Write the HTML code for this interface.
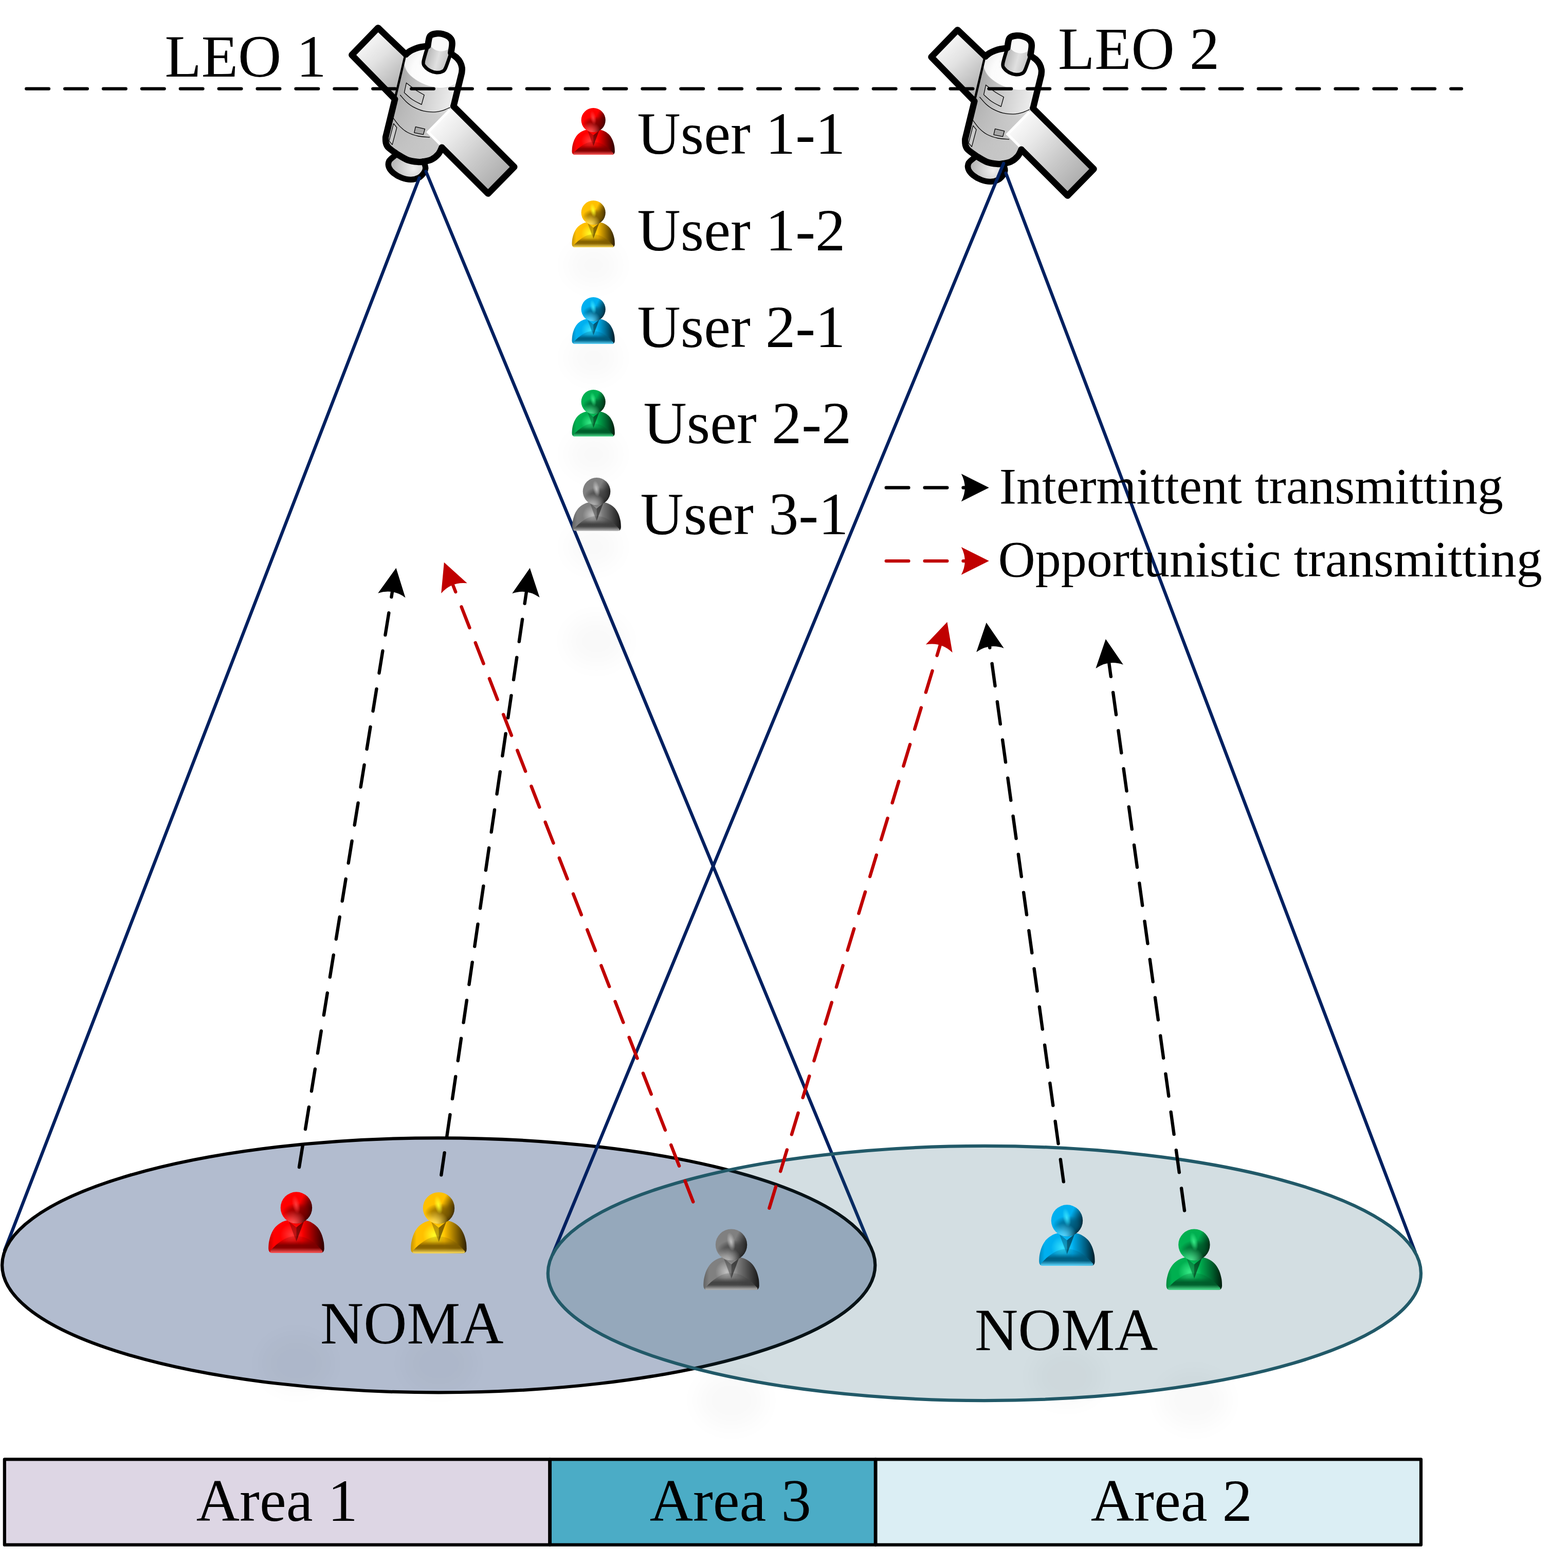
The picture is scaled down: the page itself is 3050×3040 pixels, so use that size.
<!DOCTYPE html>
<html lang="en"><head><meta charset="utf-8"><title>LEO NOMA diagram</title>
<style>
html,body{margin:0;padding:0;background:#fff;}
body{width:3050px;height:3040px;overflow:hidden;font-family:"Liberation Serif",serif;}
svg{display:block;}
</style></head><body>
<svg width="3050" height="3040" viewBox="0 0 3050 3040">
<defs>
<linearGradient id="h_red" x1="0.25" y1="0.25" x2="1.0" y2="0.62">
 <stop offset="0" stop-color="#ff0000"/><stop offset="0.42" stop-color="#ff0000"/><stop offset="0.72" stop-color="#7c0000"/><stop offset="1" stop-color="#2c0000"/>
</linearGradient>
<radialGradient id="hr_red" cx="0.4" cy="1.0" r="0.42">
 <stop offset="0" stop-color="#ff5a5a" stop-opacity="0.95"/><stop offset="0.45" stop-color="#ff5a5a" stop-opacity="0.55"/><stop offset="1" stop-color="#ff5a5a" stop-opacity="0"/>
</radialGradient>
<radialGradient id="hd_red" cx="0.55" cy="0.66" r="0.5" gradientTransform="translate(0.55 0.66) scale(1 0.62) translate(-0.55 -0.66)">
 <stop offset="0" stop-color="#7c0000" stop-opacity="0.85"/><stop offset="0.55" stop-color="#7c0000" stop-opacity="0.6"/><stop offset="1" stop-color="#7c0000" stop-opacity="0"/>
</radialGradient>
<radialGradient id="hs_red" cx="0.49" cy="0.4" r="0.3" gradientTransform="translate(0.49 0.4) rotate(-12) scale(0.42 1) translate(-0.49 -0.4)">
 <stop offset="0" stop-color="#ff3c3c" stop-opacity="0.95"/><stop offset="0.5" stop-color="#ff3c3c" stop-opacity="0.5"/><stop offset="1" stop-color="#ff3c3c" stop-opacity="0"/>
</radialGradient>
<linearGradient id="b_red" x1="0" y1="0" x2="1" y2="0">
 <stop offset="0" stop-color="#c40000"/><stop offset="0.1" stop-color="#ff0000"/><stop offset="0.6" stop-color="#ff0000"/><stop offset="0.84" stop-color="#7c0000"/><stop offset="1" stop-color="#2c0000"/>
</linearGradient>
<linearGradient id="l_red" x1="0" y1="0" x2="0" y2="1">
 <stop offset="0" stop-color="#7c0000" stop-opacity="0.18"/><stop offset="0.28" stop-color="#7c0000" stop-opacity="0.3"/><stop offset="0.55" stop-color="#7c0000" stop-opacity="0.95"/><stop offset="0.7" stop-color="#7c0000" stop-opacity="0.9"/><stop offset="1" stop-color="#ff5a5a"/>
</linearGradient>
<radialGradient id="bh_red" gradientUnits="userSpaceOnUse" cx="35" cy="64" r="17">
 <stop offset="0" stop-color="#ff3c3c" stop-opacity="0.95"/><stop offset="1" stop-color="#ff3c3c" stop-opacity="0"/>
</radialGradient>
<g id="u_red">
 <path d="M6,91 Q0.3,91 0.3,84.5 C0.4,82.8 0.4,78.2 1.1,74.5 C1.8,70.8 3.1,65.8 4.7,62.2 C6.3,58.6 8.2,55.4 10.5,52.7 C12.8,50.0 15.6,47.9 18.5,46.2 C21.4,44.5 24.1,43.4 28.0,42.5 C31.9,41.6 37.3,41.0 42.0,41.0 C46.7,41.0 52.1,41.6 56.0,42.5 C59.9,43.4 62.6,44.5 65.5,46.2 C68.4,47.9 71.2,50.0 73.5,52.7 C75.8,55.4 77.7,58.6 79.3,62.2 C80.9,65.8 82.2,70.8 82.9,74.5 C83.6,78.2 83.6,82.8 83.7,84.5 Q83.7,91 78,91 Z" fill="url(#b_red)"/>
 <path d="M6,91 Q0.3,91 0.3,84.5 C0.4,82.8 0.4,78.2 1.1,74.5 C1.8,70.8 3.1,65.8 4.7,62.2 C6.3,58.6 8.2,55.4 10.5,52.7 C12.8,50.0 15.6,47.9 18.5,46.2 C21.4,44.5 24.1,43.4 28.0,42.5 C31.9,41.6 37.3,41.0 42.0,41.0 C46.7,41.0 52.1,41.6 56.0,42.5 C59.9,43.4 62.6,44.5 65.5,46.2 C68.4,47.9 71.2,50.0 73.5,52.7 C75.8,55.4 77.7,58.6 79.3,62.2 C80.9,65.8 82.2,70.8 82.9,74.5 C83.6,78.2 83.6,82.8 83.7,84.5 Q83.7,91 78,91 Z" fill="url(#bh_red)"/>
 <path d="M6,91 Q2,91 3,88 C4.5,86.5 8.5,81.9 12.0,79.0 C15.5,76.1 20.3,72.5 24.0,70.5 C27.7,68.5 31.0,67.5 34.0,66.8 C37.0,66.0 39.3,66.0 42.0,66.0 C44.7,66.0 47.0,66.0 50.0,66.8 C53.0,67.5 56.3,68.5 60.0,70.5 C63.7,72.5 68.5,76.1 72.0,79.0 C75.5,81.9 79.5,86.5 81.0,88.0 Q82,91 78,91 Z" fill="url(#l_red)"/>
 <path d="M30.5,43.5 L42,53 L42,74 Z" fill="#7c0000" opacity="0.5"/>
 <path d="M53.5,43.5 L42,53 L42,74 Z" fill="#2c0000" opacity="0.6"/>
 <circle cx="42" cy="23.6" r="23.6" fill="url(#h_red)"/>
 <circle cx="42" cy="23.6" r="23.6" fill="url(#hd_red)"/>
 <circle cx="42" cy="23.6" r="23.6" fill="url(#hr_red)"/>
 <circle cx="42" cy="23.6" r="23.6" fill="url(#hs_red)"/>
</g>
<linearGradient id="h_yel" x1="0.25" y1="0.25" x2="1.0" y2="0.62">
 <stop offset="0" stop-color="#ffc000"/><stop offset="0.42" stop-color="#ffc000"/><stop offset="0.72" stop-color="#7e5c00"/><stop offset="1" stop-color="#2e2000"/>
</linearGradient>
<radialGradient id="hr_yel" cx="0.4" cy="1.0" r="0.42">
 <stop offset="0" stop-color="#ffe060" stop-opacity="0.95"/><stop offset="0.45" stop-color="#ffe060" stop-opacity="0.55"/><stop offset="1" stop-color="#ffe060" stop-opacity="0"/>
</radialGradient>
<radialGradient id="hd_yel" cx="0.55" cy="0.66" r="0.5" gradientTransform="translate(0.55 0.66) scale(1 0.62) translate(-0.55 -0.66)">
 <stop offset="0" stop-color="#7e5c00" stop-opacity="0.85"/><stop offset="0.55" stop-color="#7e5c00" stop-opacity="0.6"/><stop offset="1" stop-color="#7e5c00" stop-opacity="0"/>
</radialGradient>
<radialGradient id="hs_yel" cx="0.49" cy="0.4" r="0.3" gradientTransform="translate(0.49 0.4) rotate(-12) scale(0.42 1) translate(-0.49 -0.4)">
 <stop offset="0" stop-color="#ffff28" stop-opacity="0.95"/><stop offset="0.5" stop-color="#ffff28" stop-opacity="0.5"/><stop offset="1" stop-color="#ffff28" stop-opacity="0"/>
</radialGradient>
<linearGradient id="b_yel" x1="0" y1="0" x2="1" y2="0">
 <stop offset="0" stop-color="#c59300"/><stop offset="0.1" stop-color="#ffc000"/><stop offset="0.6" stop-color="#ffc000"/><stop offset="0.84" stop-color="#7e5c00"/><stop offset="1" stop-color="#2e2000"/>
</linearGradient>
<linearGradient id="l_yel" x1="0" y1="0" x2="0" y2="1">
 <stop offset="0" stop-color="#7e5c00" stop-opacity="0.18"/><stop offset="0.28" stop-color="#7e5c00" stop-opacity="0.3"/><stop offset="0.55" stop-color="#7e5c00" stop-opacity="0.95"/><stop offset="0.7" stop-color="#7e5c00" stop-opacity="0.9"/><stop offset="1" stop-color="#ffe060"/>
</linearGradient>
<radialGradient id="bh_yel" gradientUnits="userSpaceOnUse" cx="35" cy="64" r="17">
 <stop offset="0" stop-color="#ffff28" stop-opacity="0.95"/><stop offset="1" stop-color="#ffff28" stop-opacity="0"/>
</radialGradient>
<g id="u_yel">
 <path d="M6,91 Q0.3,91 0.3,84.5 C0.4,82.8 0.4,78.2 1.1,74.5 C1.8,70.8 3.1,65.8 4.7,62.2 C6.3,58.6 8.2,55.4 10.5,52.7 C12.8,50.0 15.6,47.9 18.5,46.2 C21.4,44.5 24.1,43.4 28.0,42.5 C31.9,41.6 37.3,41.0 42.0,41.0 C46.7,41.0 52.1,41.6 56.0,42.5 C59.9,43.4 62.6,44.5 65.5,46.2 C68.4,47.9 71.2,50.0 73.5,52.7 C75.8,55.4 77.7,58.6 79.3,62.2 C80.9,65.8 82.2,70.8 82.9,74.5 C83.6,78.2 83.6,82.8 83.7,84.5 Q83.7,91 78,91 Z" fill="url(#b_yel)"/>
 <path d="M6,91 Q0.3,91 0.3,84.5 C0.4,82.8 0.4,78.2 1.1,74.5 C1.8,70.8 3.1,65.8 4.7,62.2 C6.3,58.6 8.2,55.4 10.5,52.7 C12.8,50.0 15.6,47.9 18.5,46.2 C21.4,44.5 24.1,43.4 28.0,42.5 C31.9,41.6 37.3,41.0 42.0,41.0 C46.7,41.0 52.1,41.6 56.0,42.5 C59.9,43.4 62.6,44.5 65.5,46.2 C68.4,47.9 71.2,50.0 73.5,52.7 C75.8,55.4 77.7,58.6 79.3,62.2 C80.9,65.8 82.2,70.8 82.9,74.5 C83.6,78.2 83.6,82.8 83.7,84.5 Q83.7,91 78,91 Z" fill="url(#bh_yel)"/>
 <path d="M6,91 Q2,91 3,88 C4.5,86.5 8.5,81.9 12.0,79.0 C15.5,76.1 20.3,72.5 24.0,70.5 C27.7,68.5 31.0,67.5 34.0,66.8 C37.0,66.0 39.3,66.0 42.0,66.0 C44.7,66.0 47.0,66.0 50.0,66.8 C53.0,67.5 56.3,68.5 60.0,70.5 C63.7,72.5 68.5,76.1 72.0,79.0 C75.5,81.9 79.5,86.5 81.0,88.0 Q82,91 78,91 Z" fill="url(#l_yel)"/>
 <path d="M30.5,43.5 L42,53 L42,74 Z" fill="#7e5c00" opacity="0.5"/>
 <path d="M53.5,43.5 L42,53 L42,74 Z" fill="#2e2000" opacity="0.6"/>
 <circle cx="42" cy="23.6" r="23.6" fill="url(#h_yel)"/>
 <circle cx="42" cy="23.6" r="23.6" fill="url(#hd_yel)"/>
 <circle cx="42" cy="23.6" r="23.6" fill="url(#hr_yel)"/>
 <circle cx="42" cy="23.6" r="23.6" fill="url(#hs_yel)"/>
</g>
<linearGradient id="h_blu" x1="0.25" y1="0.25" x2="1.0" y2="0.62">
 <stop offset="0" stop-color="#00b0f0"/><stop offset="0.42" stop-color="#00b0f0"/><stop offset="0.72" stop-color="#005a7c"/><stop offset="1" stop-color="#001c28"/>
</linearGradient>
<radialGradient id="hr_blu" cx="0.4" cy="1.0" r="0.42">
 <stop offset="0" stop-color="#60d8ff" stop-opacity="0.95"/><stop offset="0.45" stop-color="#60d8ff" stop-opacity="0.55"/><stop offset="1" stop-color="#60d8ff" stop-opacity="0"/>
</radialGradient>
<radialGradient id="hd_blu" cx="0.55" cy="0.66" r="0.5" gradientTransform="translate(0.55 0.66) scale(1 0.62) translate(-0.55 -0.66)">
 <stop offset="0" stop-color="#005a7c" stop-opacity="0.85"/><stop offset="0.55" stop-color="#005a7c" stop-opacity="0.6"/><stop offset="1" stop-color="#005a7c" stop-opacity="0"/>
</radialGradient>
<radialGradient id="hs_blu" cx="0.49" cy="0.4" r="0.3" gradientTransform="translate(0.49 0.4) rotate(-12) scale(0.42 1) translate(-0.49 -0.4)">
 <stop offset="0" stop-color="#38e4ff" stop-opacity="0.95"/><stop offset="0.5" stop-color="#38e4ff" stop-opacity="0.5"/><stop offset="1" stop-color="#38e4ff" stop-opacity="0"/>
</radialGradient>
<linearGradient id="b_blu" x1="0" y1="0" x2="1" y2="0">
 <stop offset="0" stop-color="#0089bc"/><stop offset="0.1" stop-color="#00b0f0"/><stop offset="0.6" stop-color="#00b0f0"/><stop offset="0.84" stop-color="#005a7c"/><stop offset="1" stop-color="#001c28"/>
</linearGradient>
<linearGradient id="l_blu" x1="0" y1="0" x2="0" y2="1">
 <stop offset="0" stop-color="#005a7c" stop-opacity="0.18"/><stop offset="0.28" stop-color="#005a7c" stop-opacity="0.3"/><stop offset="0.55" stop-color="#005a7c" stop-opacity="0.95"/><stop offset="0.7" stop-color="#005a7c" stop-opacity="0.9"/><stop offset="1" stop-color="#60d8ff"/>
</linearGradient>
<radialGradient id="bh_blu" gradientUnits="userSpaceOnUse" cx="35" cy="64" r="17">
 <stop offset="0" stop-color="#38e4ff" stop-opacity="0.95"/><stop offset="1" stop-color="#38e4ff" stop-opacity="0"/>
</radialGradient>
<g id="u_blu">
 <path d="M6,91 Q0.3,91 0.3,84.5 C0.4,82.8 0.4,78.2 1.1,74.5 C1.8,70.8 3.1,65.8 4.7,62.2 C6.3,58.6 8.2,55.4 10.5,52.7 C12.8,50.0 15.6,47.9 18.5,46.2 C21.4,44.5 24.1,43.4 28.0,42.5 C31.9,41.6 37.3,41.0 42.0,41.0 C46.7,41.0 52.1,41.6 56.0,42.5 C59.9,43.4 62.6,44.5 65.5,46.2 C68.4,47.9 71.2,50.0 73.5,52.7 C75.8,55.4 77.7,58.6 79.3,62.2 C80.9,65.8 82.2,70.8 82.9,74.5 C83.6,78.2 83.6,82.8 83.7,84.5 Q83.7,91 78,91 Z" fill="url(#b_blu)"/>
 <path d="M6,91 Q0.3,91 0.3,84.5 C0.4,82.8 0.4,78.2 1.1,74.5 C1.8,70.8 3.1,65.8 4.7,62.2 C6.3,58.6 8.2,55.4 10.5,52.7 C12.8,50.0 15.6,47.9 18.5,46.2 C21.4,44.5 24.1,43.4 28.0,42.5 C31.9,41.6 37.3,41.0 42.0,41.0 C46.7,41.0 52.1,41.6 56.0,42.5 C59.9,43.4 62.6,44.5 65.5,46.2 C68.4,47.9 71.2,50.0 73.5,52.7 C75.8,55.4 77.7,58.6 79.3,62.2 C80.9,65.8 82.2,70.8 82.9,74.5 C83.6,78.2 83.6,82.8 83.7,84.5 Q83.7,91 78,91 Z" fill="url(#bh_blu)"/>
 <path d="M6,91 Q2,91 3,88 C4.5,86.5 8.5,81.9 12.0,79.0 C15.5,76.1 20.3,72.5 24.0,70.5 C27.7,68.5 31.0,67.5 34.0,66.8 C37.0,66.0 39.3,66.0 42.0,66.0 C44.7,66.0 47.0,66.0 50.0,66.8 C53.0,67.5 56.3,68.5 60.0,70.5 C63.7,72.5 68.5,76.1 72.0,79.0 C75.5,81.9 79.5,86.5 81.0,88.0 Q82,91 78,91 Z" fill="url(#l_blu)"/>
 <path d="M30.5,43.5 L42,53 L42,74 Z" fill="#005a7c" opacity="0.5"/>
 <path d="M53.5,43.5 L42,53 L42,74 Z" fill="#001c28" opacity="0.6"/>
 <circle cx="42" cy="23.6" r="23.6" fill="url(#h_blu)"/>
 <circle cx="42" cy="23.6" r="23.6" fill="url(#hd_blu)"/>
 <circle cx="42" cy="23.6" r="23.6" fill="url(#hr_blu)"/>
 <circle cx="42" cy="23.6" r="23.6" fill="url(#hs_blu)"/>
</g>
<linearGradient id="h_grn" x1="0.25" y1="0.25" x2="1.0" y2="0.62">
 <stop offset="0" stop-color="#00b050"/><stop offset="0.42" stop-color="#00b050"/><stop offset="0.72" stop-color="#005a2a"/><stop offset="1" stop-color="#001c0c"/>
</linearGradient>
<radialGradient id="hr_grn" cx="0.4" cy="1.0" r="0.42">
 <stop offset="0" stop-color="#50e090" stop-opacity="0.95"/><stop offset="0.45" stop-color="#50e090" stop-opacity="0.55"/><stop offset="1" stop-color="#50e090" stop-opacity="0"/>
</radialGradient>
<radialGradient id="hd_grn" cx="0.55" cy="0.66" r="0.5" gradientTransform="translate(0.55 0.66) scale(1 0.62) translate(-0.55 -0.66)">
 <stop offset="0" stop-color="#005a2a" stop-opacity="0.85"/><stop offset="0.55" stop-color="#005a2a" stop-opacity="0.6"/><stop offset="1" stop-color="#005a2a" stop-opacity="0"/>
</radialGradient>
<radialGradient id="hs_grn" cx="0.49" cy="0.4" r="0.3" gradientTransform="translate(0.49 0.4) rotate(-12) scale(0.42 1) translate(-0.49 -0.4)">
 <stop offset="0" stop-color="#38ec88" stop-opacity="0.95"/><stop offset="0.5" stop-color="#38ec88" stop-opacity="0.5"/><stop offset="1" stop-color="#38ec88" stop-opacity="0"/>
</radialGradient>
<linearGradient id="b_grn" x1="0" y1="0" x2="1" y2="0">
 <stop offset="0" stop-color="#00893f"/><stop offset="0.1" stop-color="#00b050"/><stop offset="0.6" stop-color="#00b050"/><stop offset="0.84" stop-color="#005a2a"/><stop offset="1" stop-color="#001c0c"/>
</linearGradient>
<linearGradient id="l_grn" x1="0" y1="0" x2="0" y2="1">
 <stop offset="0" stop-color="#005a2a" stop-opacity="0.18"/><stop offset="0.28" stop-color="#005a2a" stop-opacity="0.3"/><stop offset="0.55" stop-color="#005a2a" stop-opacity="0.95"/><stop offset="0.7" stop-color="#005a2a" stop-opacity="0.9"/><stop offset="1" stop-color="#50e090"/>
</linearGradient>
<radialGradient id="bh_grn" gradientUnits="userSpaceOnUse" cx="35" cy="64" r="17">
 <stop offset="0" stop-color="#38ec88" stop-opacity="0.95"/><stop offset="1" stop-color="#38ec88" stop-opacity="0"/>
</radialGradient>
<g id="u_grn">
 <path d="M6,91 Q0.3,91 0.3,84.5 C0.4,82.8 0.4,78.2 1.1,74.5 C1.8,70.8 3.1,65.8 4.7,62.2 C6.3,58.6 8.2,55.4 10.5,52.7 C12.8,50.0 15.6,47.9 18.5,46.2 C21.4,44.5 24.1,43.4 28.0,42.5 C31.9,41.6 37.3,41.0 42.0,41.0 C46.7,41.0 52.1,41.6 56.0,42.5 C59.9,43.4 62.6,44.5 65.5,46.2 C68.4,47.9 71.2,50.0 73.5,52.7 C75.8,55.4 77.7,58.6 79.3,62.2 C80.9,65.8 82.2,70.8 82.9,74.5 C83.6,78.2 83.6,82.8 83.7,84.5 Q83.7,91 78,91 Z" fill="url(#b_grn)"/>
 <path d="M6,91 Q0.3,91 0.3,84.5 C0.4,82.8 0.4,78.2 1.1,74.5 C1.8,70.8 3.1,65.8 4.7,62.2 C6.3,58.6 8.2,55.4 10.5,52.7 C12.8,50.0 15.6,47.9 18.5,46.2 C21.4,44.5 24.1,43.4 28.0,42.5 C31.9,41.6 37.3,41.0 42.0,41.0 C46.7,41.0 52.1,41.6 56.0,42.5 C59.9,43.4 62.6,44.5 65.5,46.2 C68.4,47.9 71.2,50.0 73.5,52.7 C75.8,55.4 77.7,58.6 79.3,62.2 C80.9,65.8 82.2,70.8 82.9,74.5 C83.6,78.2 83.6,82.8 83.7,84.5 Q83.7,91 78,91 Z" fill="url(#bh_grn)"/>
 <path d="M6,91 Q2,91 3,88 C4.5,86.5 8.5,81.9 12.0,79.0 C15.5,76.1 20.3,72.5 24.0,70.5 C27.7,68.5 31.0,67.5 34.0,66.8 C37.0,66.0 39.3,66.0 42.0,66.0 C44.7,66.0 47.0,66.0 50.0,66.8 C53.0,67.5 56.3,68.5 60.0,70.5 C63.7,72.5 68.5,76.1 72.0,79.0 C75.5,81.9 79.5,86.5 81.0,88.0 Q82,91 78,91 Z" fill="url(#l_grn)"/>
 <path d="M30.5,43.5 L42,53 L42,74 Z" fill="#005a2a" opacity="0.5"/>
 <path d="M53.5,43.5 L42,53 L42,74 Z" fill="#001c0c" opacity="0.6"/>
 <circle cx="42" cy="23.6" r="23.6" fill="url(#h_grn)"/>
 <circle cx="42" cy="23.6" r="23.6" fill="url(#hd_grn)"/>
 <circle cx="42" cy="23.6" r="23.6" fill="url(#hr_grn)"/>
 <circle cx="42" cy="23.6" r="23.6" fill="url(#hs_grn)"/>
</g>
<linearGradient id="h_gry" x1="0.25" y1="0.25" x2="1.0" y2="0.62">
 <stop offset="0" stop-color="#808080"/><stop offset="0.42" stop-color="#808080"/><stop offset="0.72" stop-color="#404040"/><stop offset="1" stop-color="#161616"/>
</linearGradient>
<radialGradient id="hr_gry" cx="0.4" cy="1.0" r="0.42">
 <stop offset="0" stop-color="#b8b8b8" stop-opacity="0.95"/><stop offset="0.45" stop-color="#b8b8b8" stop-opacity="0.55"/><stop offset="1" stop-color="#b8b8b8" stop-opacity="0"/>
</radialGradient>
<radialGradient id="hd_gry" cx="0.55" cy="0.66" r="0.5" gradientTransform="translate(0.55 0.66) scale(1 0.62) translate(-0.55 -0.66)">
 <stop offset="0" stop-color="#404040" stop-opacity="0.85"/><stop offset="0.55" stop-color="#404040" stop-opacity="0.6"/><stop offset="1" stop-color="#404040" stop-opacity="0"/>
</radialGradient>
<radialGradient id="hs_gry" cx="0.49" cy="0.4" r="0.3" gradientTransform="translate(0.49 0.4) rotate(-12) scale(0.42 1) translate(-0.49 -0.4)">
 <stop offset="0" stop-color="#c4c4c4" stop-opacity="0.95"/><stop offset="0.5" stop-color="#c4c4c4" stop-opacity="0.5"/><stop offset="1" stop-color="#c4c4c4" stop-opacity="0"/>
</radialGradient>
<linearGradient id="b_gry" x1="0" y1="0" x2="1" y2="0">
 <stop offset="0" stop-color="#636363"/><stop offset="0.1" stop-color="#808080"/><stop offset="0.6" stop-color="#808080"/><stop offset="0.84" stop-color="#404040"/><stop offset="1" stop-color="#161616"/>
</linearGradient>
<linearGradient id="l_gry" x1="0" y1="0" x2="0" y2="1">
 <stop offset="0" stop-color="#404040" stop-opacity="0.18"/><stop offset="0.28" stop-color="#404040" stop-opacity="0.3"/><stop offset="0.55" stop-color="#404040" stop-opacity="0.95"/><stop offset="0.7" stop-color="#404040" stop-opacity="0.9"/><stop offset="1" stop-color="#b8b8b8"/>
</linearGradient>
<radialGradient id="bh_gry" gradientUnits="userSpaceOnUse" cx="35" cy="64" r="17">
 <stop offset="0" stop-color="#c4c4c4" stop-opacity="0.95"/><stop offset="1" stop-color="#c4c4c4" stop-opacity="0"/>
</radialGradient>
<g id="u_gry">
 <path d="M6,91 Q0.3,91 0.3,84.5 C0.4,82.8 0.4,78.2 1.1,74.5 C1.8,70.8 3.1,65.8 4.7,62.2 C6.3,58.6 8.2,55.4 10.5,52.7 C12.8,50.0 15.6,47.9 18.5,46.2 C21.4,44.5 24.1,43.4 28.0,42.5 C31.9,41.6 37.3,41.0 42.0,41.0 C46.7,41.0 52.1,41.6 56.0,42.5 C59.9,43.4 62.6,44.5 65.5,46.2 C68.4,47.9 71.2,50.0 73.5,52.7 C75.8,55.4 77.7,58.6 79.3,62.2 C80.9,65.8 82.2,70.8 82.9,74.5 C83.6,78.2 83.6,82.8 83.7,84.5 Q83.7,91 78,91 Z" fill="url(#b_gry)"/>
 <path d="M6,91 Q0.3,91 0.3,84.5 C0.4,82.8 0.4,78.2 1.1,74.5 C1.8,70.8 3.1,65.8 4.7,62.2 C6.3,58.6 8.2,55.4 10.5,52.7 C12.8,50.0 15.6,47.9 18.5,46.2 C21.4,44.5 24.1,43.4 28.0,42.5 C31.9,41.6 37.3,41.0 42.0,41.0 C46.7,41.0 52.1,41.6 56.0,42.5 C59.9,43.4 62.6,44.5 65.5,46.2 C68.4,47.9 71.2,50.0 73.5,52.7 C75.8,55.4 77.7,58.6 79.3,62.2 C80.9,65.8 82.2,70.8 82.9,74.5 C83.6,78.2 83.6,82.8 83.7,84.5 Q83.7,91 78,91 Z" fill="url(#bh_gry)"/>
 <path d="M6,91 Q2,91 3,88 C4.5,86.5 8.5,81.9 12.0,79.0 C15.5,76.1 20.3,72.5 24.0,70.5 C27.7,68.5 31.0,67.5 34.0,66.8 C37.0,66.0 39.3,66.0 42.0,66.0 C44.7,66.0 47.0,66.0 50.0,66.8 C53.0,67.5 56.3,68.5 60.0,70.5 C63.7,72.5 68.5,76.1 72.0,79.0 C75.5,81.9 79.5,86.5 81.0,88.0 Q82,91 78,91 Z" fill="url(#l_gry)"/>
 <path d="M30.5,43.5 L42,53 L42,74 Z" fill="#404040" opacity="0.5"/>
 <path d="M53.5,43.5 L42,53 L42,74 Z" fill="#161616" opacity="0.6"/>
 <circle cx="42" cy="23.6" r="23.6" fill="url(#h_gry)"/>
 <circle cx="42" cy="23.6" r="23.6" fill="url(#hd_gry)"/>
 <circle cx="42" cy="23.6" r="23.6" fill="url(#hr_gry)"/>
 <circle cx="42" cy="23.6" r="23.6" fill="url(#hs_gry)"/>
</g><linearGradient id="panL" gradientUnits="userSpaceOnUse" x1="430" y1="310" x2="700" y2="620">
 <stop offset="0" stop-color="#f6f6f6"/><stop offset="0.4" stop-color="#e2e2e2"/><stop offset="1" stop-color="#b4b4b4"/>
</linearGradient>
<linearGradient id="panR" gradientUnits="userSpaceOnUse" x1="960" y1="880" x2="1450" y2="1350">
 <stop offset="0" stop-color="#fcfcfc"/><stop offset="0.3" stop-color="#e8e8e8"/><stop offset="0.6" stop-color="#cdcdcd"/><stop offset="1" stop-color="#adadad"/>
</linearGradient>
<linearGradient id="bodyG" gradientUnits="userSpaceOnUse" x1="640" y1="760" x2="1110" y2="860">
 <stop offset="0" stop-color="#a6a6a6"/><stop offset="0.45" stop-color="#cfcfcf"/><stop offset="1" stop-color="#f4f4f4"/>
</linearGradient>
<linearGradient id="bodyD" gradientUnits="userSpaceOnUse" x1="900" y1="700" x2="820" y2="1150">
 <stop offset="0" stop-color="#bbb" stop-opacity="0"/><stop offset="0.35" stop-color="#bbb" stop-opacity="0.55"/><stop offset="1" stop-color="#c4c4c4" stop-opacity="0.9"/>
</linearGradient>
<radialGradient id="capG" gradientUnits="userSpaceOnUse" cx="960" cy="560" r="260">
 <stop offset="0" stop-color="#fff"/><stop offset="0.7" stop-color="#fbfbfb"/><stop offset="1" stop-color="#ececec"/>
</radialGradient>
<linearGradient id="nozG" gradientUnits="userSpaceOnUse" x1="880" y1="420" x2="1060" y2="470">
 <stop offset="0" stop-color="#b4b4b4"/><stop offset="0.5" stop-color="#e0e0e0"/><stop offset="1" stop-color="#c0c0c0"/>
</linearGradient>
<radialGradient id="bellG" gradientUnits="userSpaceOnUse" cx="790" cy="1265" r="170">
 <stop offset="0" stop-color="#f0f0f0"/><stop offset="1" stop-color="#b4b4b4"/>
</radialGradient>
<g id="sat" stroke-linejoin="round" stroke-linecap="round" fill="none">
<path d="M523.0,209.0 L325.6,413.0 L650.0,745.0 L760.0,640.0 L732.0,409.0 Z" fill="url(#panL)"/>
<path d="M646.0,1172.0 C639.3,1178.3 613.0,1196.0 606.0,1210.0 C599.0,1224.0 598.3,1240.7 604.0,1256.0 C609.7,1271.3 624.0,1288.7 640.0,1302.0 C656.0,1315.3 678.3,1328.0 700.0,1336.0 C721.7,1344.0 748.3,1350.2 770.0,1350.0 C791.7,1349.8 813.7,1343.7 830.0,1335.0 C846.3,1326.3 859.7,1309.7 868.0,1298.0 C876.3,1286.3 879.2,1276.0 880.0,1265.0 C880.8,1254.0 875.5,1240.8 873.0,1232.0 C870.5,1223.2 866.3,1215.3 865.0,1212.0 Z" fill="url(#bellG)"/>
<path d="M732.0,409.0 C737.0,405.0 750.0,392.3 762.0,385.0 C774.0,377.7 790.2,370.3 804.0,365.0 C817.8,359.7 831.5,356.0 845.0,353.0 C858.5,350.0 878.3,348.0 885.0,347.0 L1075,405 C1081.2,409.5 1101.2,421.7 1112.0,432.0 C1122.8,442.3 1133.0,454.0 1140.0,467.0 C1147.0,480.0 1152.0,496.5 1154.0,510.0 C1156.0,523.5 1152.3,541.7 1152.0,548.0 L1091,795 L1003,1108 C998.7,1116.2 990.0,1141.8 977.0,1157.0 C964.0,1172.2 943.7,1189.5 925.0,1199.0 C906.3,1208.5 881.7,1211.0 865.0,1214.0 C848.3,1217.0 845.0,1219.0 825.0,1217.0 C805.0,1215.0 771.8,1212.0 745.0,1202.0 C718.2,1192.0 677.5,1164.5 664.0,1157.0 C653.3,1148.8 613.7,1122.2 600.0,1108.0 C586.3,1093.8 585.3,1084.8 582.0,1072.0 C578.7,1059.2 580.3,1037.8 580.0,1031.0 L650,745 L716,449 Z" fill="url(#bodyG)"/>
<path d="M690.0,715.0 C697.5,723.3 719.2,750.5 735.0,765.0 C750.8,779.5 763.3,790.5 785.0,802.0 C806.7,813.5 838.3,827.3 865.0,834.0 C891.7,840.7 920.8,842.7 945.0,842.0 C969.2,841.3 990.5,835.7 1010.0,830.0 C1029.5,824.3 1053.3,811.7 1062.0,808.0 L1091,795 L1003,1108 C998.7,1116.2 990.0,1141.8 977.0,1157.0 C964.0,1172.2 943.7,1189.5 925.0,1199.0 C906.3,1208.5 881.7,1211.0 865.0,1214.0 C848.3,1217.0 845.0,1219.0 825.0,1217.0 C805.0,1215.0 771.8,1212.0 745.0,1202.0 C718.2,1192.0 677.5,1164.5 664.0,1157.0 C653.3,1148.8 613.7,1122.2 600.0,1108.0 C586.3,1093.8 585.3,1084.8 582.0,1072.0 C578.7,1059.2 580.3,1037.8 580.0,1031.0 L650,745 Z" fill="url(#bodyD)"/>
<path d="M732.0,409.0 C737.0,405.0 750.0,392.3 762.0,385.0 C774.0,377.7 790.2,370.3 804.0,365.0 C817.8,359.7 831.5,356.0 845.0,353.0 C858.5,350.0 878.3,348.0 885.0,347.0 L1075,405 C1081.2,409.5 1101.2,421.7 1112.0,432.0 C1122.8,442.3 1133.0,454.0 1140.0,467.0 C1147.0,480.0 1152.0,496.5 1154.0,510.0 C1156.0,523.5 1152.3,541.7 1152.0,548.0 L1140,580 L1107,634 C1096.3,637.8 1064.2,652.3 1043.0,657.0 C1021.8,661.7 1001.8,663.3 980.0,662.0 C958.2,660.7 933.7,655.2 912.0,649.0 C890.3,642.8 870.0,635.0 850.0,625.0 C830.0,615.0 808.7,601.5 792.0,589.0 C775.3,576.5 761.3,564.7 750.0,550.0 C738.7,535.3 729.7,517.8 724.0,501.0 C718.3,484.2 717.3,457.7 716.0,449.0 Z" fill="url(#capG)"/>
<path d="M1107.0,634.0 C1096.3,637.8 1064.2,652.3 1043.0,657.0 C1021.8,661.7 1001.8,663.3 980.0,662.0 C958.2,660.7 933.7,655.2 912.0,649.0 C890.3,642.8 870.0,635.0 850.0,625.0 C830.0,615.0 808.7,601.5 792.0,589.0 C775.3,576.5 761.3,564.7 750.0,550.0 C738.7,535.3 729.7,517.8 724.0,501.0 C718.3,484.2 717.3,457.7 716.0,449.0" stroke="#c8c8c8" stroke-width="3"/>
<path d="M897.0,345.0 C898.8,334.7 903.3,296.8 908.0,283.0 C912.7,269.2 915.5,267.2 925.0,262.0 C934.5,256.8 950.8,253.0 965.0,252.0 C979.2,251.0 995.5,252.3 1010.0,256.0 C1024.5,259.7 1041.0,266.3 1052.0,274.0 C1063.0,281.7 1071.3,291.8 1076.0,302.0 C1080.7,312.2 1080.8,319.0 1080.0,335.0 C1079.2,351.0 1072.5,387.5 1071.0,398.0 C1064.2,417.0 1041.0,488.7 1030.0,512.0 C1019.0,535.3 1016.3,532.5 1005.0,538.0 C993.7,543.5 977.5,546.3 962.0,545.0 C946.5,543.7 926.5,537.5 912.0,530.0 C897.5,522.5 883.0,511.3 875.0,500.0 C867.0,488.7 860.3,487.8 864.0,462.0 C867.7,436.2 891.5,364.5 897.0,345.0 Z" fill="url(#nozG)"/>
<ellipse cx="990" cy="322" rx="82" ry="62" transform="rotate(11.8 990 322)" fill="#f9f9f9"/>
<g stroke="#000" stroke-width="5">
<path d="M690.0,715.0 C697.5,723.3 719.2,750.5 735.0,765.0 C750.8,779.5 763.3,790.5 785.0,802.0 C806.7,813.5 838.3,827.3 865.0,834.0 C891.7,840.7 920.8,842.7 945.0,842.0 C969.2,841.3 990.5,835.7 1010.0,830.0 C1029.5,824.3 1053.3,811.7 1062.0,808.0"/>
<path d="M636.0,885.0 C644.7,896.0 669.8,932.7 688.0,951.0 C706.2,969.3 722.2,983.0 745.0,995.0 C767.8,1007.0 797.5,1017.0 825.0,1023.0 C852.5,1029.0 895.8,1029.7 910.0,1031.0"/>
<path d="M736.0,623.0 C746.7,631.2 777.7,656.8 800.0,672.0 C822.3,687.2 858.3,707.0 870.0,714.0 L850,786 C838.3,779.7 801.7,763.0 780.0,748.0 C758.3,733.0 730.0,704.7 720.0,696.0 Z" fill="#c8c8c8"/>
<path d="M805.0,953.0 L875.0,969.0 L863.0,1011.0 L795.0,997.0 Z" fill="#a8a8a8"/>
<path d="M640.0,929.0 L664.0,959.0 L630.0,1087.0 L606.0,1059.0 Z" fill="#c8c8c8"/>
</g>
<path d="M1075,812 L899,993 L1350,1455 L1547,1254 L1090,798 Z" fill="url(#panR)"/>
<path d="M1063.0,826.0 L899.0,993.0 L990.0,1084.0" stroke="#fff" stroke-width="20" stroke-linecap="butt" stroke-linejoin="miter"/>
<path d="M727,418 L652,735" stroke="#000" stroke-width="17" stroke-linecap="butt"/>
<path d="M897.0,345.0 C891.5,364.5 867.7,436.2 864.0,462.0 C860.3,487.8 867.0,488.7 875.0,500.0 C883.0,511.3 897.5,522.5 912.0,530.0 C926.5,537.5 946.5,543.7 962.0,545.0 C977.5,546.3 993.7,543.5 1005.0,538.0 C1016.3,532.5 1019.0,535.3 1030.0,512.0 C1041.0,488.7 1064.2,417.0 1071.0,398.0" stroke="#000" stroke-width="26"/>
<g stroke="#000" stroke-width="48">
<path d="M732.0,409.0 L523.0,209.0 L325.6,413.0 L650.0,745.0 L580.0,1031.0 C580.3,1037.8 578.7,1059.2 582.0,1072.0 C585.3,1084.8 586.3,1093.8 600.0,1108.0 C613.7,1122.2 653.3,1148.8 664.0,1157.0 C677.5,1164.5 718.2,1192.0 745.0,1202.0 C771.8,1212.0 805.0,1215.0 825.0,1217.0 C845.0,1219.0 848.3,1217.0 865.0,1214.0 C881.7,1211.0 906.3,1208.5 925.0,1199.0 C943.7,1189.5 964.0,1172.2 977.0,1157.0 C990.0,1141.8 998.7,1116.2 1003.0,1108.0"/>
<path d="M646.0,1172.0 C639.3,1178.3 613.0,1196.0 606.0,1210.0 C599.0,1224.0 598.3,1240.7 604.0,1256.0 C609.7,1271.3 624.0,1288.7 640.0,1302.0 C656.0,1315.3 678.3,1328.0 700.0,1336.0 C721.7,1344.0 748.3,1350.2 770.0,1350.0 C791.7,1349.8 813.7,1343.7 830.0,1335.0 C846.3,1326.3 859.7,1309.7 868.0,1298.0 C876.3,1286.3 879.2,1276.0 880.0,1265.0 C880.8,1254.0 875.5,1240.8 873.0,1232.0 C870.5,1223.2 866.3,1215.3 865.0,1212.0" stroke-width="44"/>
<path d="M732.0,409.0 C737.0,405.0 750.0,392.3 762.0,385.0 C774.0,377.7 790.2,370.3 804.0,365.0 C817.8,359.7 831.5,356.0 845.0,353.0 C858.5,350.0 878.3,348.0 885.0,347.0"/>
<path d="M897.0,345.0 C898.8,334.7 903.3,296.8 908.0,283.0 C912.7,269.2 915.5,267.2 925.0,262.0 C934.5,256.8 950.8,253.0 965.0,252.0 C979.2,251.0 995.5,252.3 1010.0,256.0 C1024.5,259.7 1041.0,266.3 1052.0,274.0 C1063.0,281.7 1071.3,291.8 1076.0,302.0 C1080.7,312.2 1080.8,319.0 1080.0,335.0 C1079.2,351.0 1072.5,387.5 1071.0,398.0"/>
<path d="M1075.0,405.0 C1081.2,409.5 1101.2,421.7 1112.0,432.0 C1122.8,442.3 1133.0,454.0 1140.0,467.0 C1147.0,480.0 1152.0,496.5 1154.0,510.0 C1156.0,523.5 1152.3,541.7 1152.0,548.0 L1091,797"/>
<path d="M1090.0,798.0 L1547.0,1254.0 L1350.0,1455.0 L1005.0,1110.0"/>
</g>
</g><filter id="blur" filterUnits="userSpaceOnUse" x="0" y="0" width="3050" height="3040"><feGaussianBlur stdDeviation="22"/></filter></defs>
<rect width="3050" height="3040" fill="#fff"/>
<use href="#sat" transform="translate(600,0) scale(0.25880)"/>
<use href="#sat" transform="translate(1727.2,4) scale(0.25880)"/>
<g stroke="#002060" stroke-width="6.25" stroke-linecap="round" fill="none"><line x1="815.7" y1="345.9" x2="9" y2="2432"/><line x1="828.5" y1="333.4" x2="1693" y2="2424.6"/></g>
<ellipse cx="853.2" cy="2460.85" rx="849.1" ry="247.55" fill="#b2bccf" stroke="#000" stroke-width="6.25"/>
<g stroke="#002060" stroke-width="6.25" stroke-linecap="round" fill="none"><line x1="1952.2" y1="317.7" x2="1075" y2="2440"/><line x1="1956.6" y1="336.7" x2="2753" y2="2436"/></g>
<ellipse cx="1914.9" cy="2476.45" rx="849.1" ry="247.55" fill="#215970" fill-opacity="0.2" stroke="none"/>
<ellipse cx="1914.9" cy="2476.45" rx="849.1" ry="247.55" fill="none" stroke="#215968" stroke-width="6.25"/>
<line x1="51.3" y1="172.6" x2="2842.8" y2="172.6" stroke="#000" stroke-width="6.4" stroke-dasharray="43.6 31.29" stroke-linecap="round"/>
<g font-family="'Liberation Serif', serif" fill="#000">
<text x="320.5" y="149" font-size="116.67" text-anchor="start">LEO 1</text>
<text x="2057.9" y="134" font-size="116.67" text-anchor="start">LEO 2</text>
<text x="1239.5" y="299" font-size="116.67" text-anchor="start">User 1-1</text>
<text x="1239.5" y="487" font-size="116.67" text-anchor="start">User 1-2</text>
<text x="1239.5" y="675" font-size="116.67" text-anchor="start">User 2-1</text>
<text x="1251.5" y="861.6" font-size="116.67" text-anchor="start">User 2-2</text>
<text x="1245.5" y="1038.7" font-size="116.67" text-anchor="start">User 3-1</text>
<text x="1943.7" y="978.8" font-size="100" text-anchor="start">Intermittent transmitting</text>
<text x="1941.6" y="1121.2" font-size="100" text-anchor="start">Opportunistic transmitting</text>
<text x="623" y="2613.2" font-size="116.67" text-anchor="start">NOMA</text>
<text x="1895.9" y="2626.4" font-size="116.67" text-anchor="start">NOMA</text>
</g>
<use href="#u_red" transform="translate(1112.2,210.0) scale(1.0000)"/>
<use href="#u_yel" transform="translate(1112.2,390.0) scale(1.0000)"/>
<use href="#u_blu" transform="translate(1112.2,577.9) scale(1.0000)"/>
<use href="#u_grn" transform="translate(1112.2,757.9) scale(1.0000)"/>
<use href="#u_gry" transform="translate(1112.8,928.9) scale(1.1369)"/>
<use href="#u_red" transform="translate(521.8,2318.3) scale(1.3012)"/>
<use href="#u_yel" transform="translate(798.8,2319.0) scale(1.3012)"/>
<use href="#u_gry" transform="translate(1367.9,2390.4) scale(1.3012)"/>
<use href="#u_blu" transform="translate(2020.8,2343.3) scale(1.3012)"/>
<use href="#u_grn" transform="translate(2268.2,2390.4) scale(1.3012)"/>
<line x1="582.0" y1="2270.1" x2="767.3" y2="1124.5" stroke="#000" stroke-width="6.4" stroke-dasharray="43.6 31.29" stroke-linecap="round"/><path d="M770.5,1104.8 L788.5,1162.4 Q764.1,1144.3 735.2,1153.8 Z" fill="#000"/>
<line x1="858.3" y1="2285.3" x2="1027.8" y2="1124.6" stroke="#000" stroke-width="6.4" stroke-dasharray="43.6 31.29" stroke-linecap="round"/><path d="M1030.7,1104.8 L1049.6,1162.1 Q1024.9,1144.4 996.2,1154.3 Z" fill="#000"/>
<line x1="1348.3" y1="2337.5" x2="871.1" y2="1112.4" stroke="#c00000" stroke-width="6.4" stroke-dasharray="43.6 31.29" stroke-linecap="round"/><path d="M863.8,1093.8 L908.6,1134.3 Q878.3,1131.0 858.2,1153.9 Z" fill="#c00000"/>
<line x1="1496.4" y1="2349.8" x2="1836.6" y2="1228.9" stroke="#c00000" stroke-width="6.4" stroke-dasharray="43.6 31.29" stroke-linecap="round"/><path d="M1842.4,1209.8 L1852.6,1269.3 Q1830.8,1248.1 1800.9,1253.6 Z" fill="#c00000"/>
<line x1="2068.8" y1="2298.4" x2="1921.3" y2="1230.8" stroke="#000" stroke-width="6.4" stroke-dasharray="43.6 31.29" stroke-linecap="round"/><path d="M1918.6,1211.0 L1952.7,1260.8 Q1924.1,1250.6 1899.2,1268.2 Z" fill="#000"/>
<line x1="2304.0" y1="2354.5" x2="2153.5" y2="1262.7" stroke="#000" stroke-width="6.4" stroke-dasharray="43.6 31.29" stroke-linecap="round"/><path d="M2150.8,1242.9 L2184.9,1292.7 Q2156.3,1282.5 2131.4,1300.1 Z" fill="#000"/>
<line x1="1723.8" y1="948.5" x2="1903.8" y2="948.5" stroke="#000" stroke-width="6.4" stroke-dasharray="43.6 31.29" stroke-linecap="round"/><path d="M1923.8,948.5 L1869.8,975.5 Q1883.8,948.5 1869.8,921.5 Z" fill="#000"/>
<line x1="1723.8" y1="1091.1" x2="1903.8" y2="1091.1" stroke="#c00000" stroke-width="6.4" stroke-dasharray="43.6 31.29" stroke-linecap="round"/><path d="M1923.8,1091.1 L1869.8,1118.1 Q1883.8,1091.1 1869.8,1064.1 Z" fill="#c00000"/>
<g stroke="#000" stroke-width="6.25" stroke-linejoin="round"><rect x="8.85" y="2838.25" width="1060.45" height="166.45" fill="#ddd6e4"/><rect x="1069.9" y="2838.25" width="632.9" height="166.45" fill="#4bacc6"/><rect x="1703.4" y="2838.25" width="1060.6" height="166.45" fill="#dbeef4"/></g>
<g font-family="'Liberation Serif', serif" fill="#000">
<text x="381.8" y="2957.9" font-size="116.67" text-anchor="start">Area 1</text>
<text x="1263.75" y="2957.9" font-size="116.67" text-anchor="start">Area 3</text>
<text x="2121.8" y="2957.9" font-size="116.67" text-anchor="start">Area 2</text>
</g>
<g fill="#000" opacity="0.022" filter="url(#blur)"><ellipse cx="1154.2" cy="516.0" rx="52.1" ry="42.0"/><ellipse cx="1154.2" cy="696.0" rx="52.1" ry="42.0"/><ellipse cx="1154.2" cy="883.9" rx="52.1" ry="42.0"/><ellipse cx="1154.2" cy="1063.9" rx="52.1" ry="42.0"/><ellipse cx="1160.5" cy="1247.4" rx="59.2" ry="47.8"/><ellipse cx="576.4" cy="2651.7" rx="67.8" ry="54.6"/><ellipse cx="853.4" cy="2652.4" rx="67.8" ry="54.6"/><ellipse cx="1422.6" cy="2723.8" rx="67.8" ry="54.6"/><ellipse cx="2075.4" cy="2676.7" rx="67.8" ry="54.6"/><ellipse cx="2322.8" cy="2723.8" rx="67.8" ry="54.6"/></g>
</svg>
</body></html>
